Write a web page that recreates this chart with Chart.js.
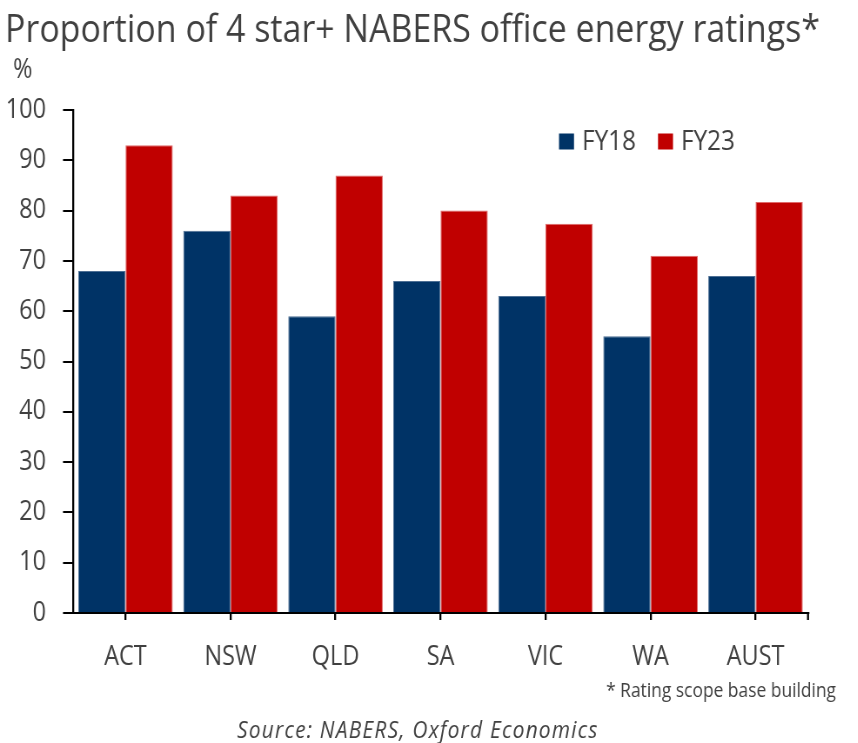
<!DOCTYPE html>
<html>
<head>
<meta charset="utf-8">
<script src="https://cdn.jsdelivr.net/npm/chart.js@4/dist/chart.umd.min.js"></script>
<style>
  html, body { margin: 0; padding: 0; background: #fff; }
  #wrap { position: absolute; left: 0; top: 0; width: 858px; height: 743px; overflow: hidden; }
  /* text in the original is a narrow face, so the whole chart is drawn wider and squeezed */
  #inner { width: 986.2px; height: 743px; transform: scaleX(0.87); transform-origin: 0 0; }
</style>
</head>
<body>
<div id="wrap"><div id="inner"><canvas id="chart"></canvas></div></div>
<script>
const categories = ['ACT', 'NSW', 'QLD', 'SA', 'VIC', 'WA', 'AUST'];
const fy18 = [68, 76, 59, 66, 63, 55, 67];
const fy23 = [93, 83, 87, 80, 77.4, 71, 81.7];
const seriesNames = ['FY18', 'FY23'];
const yMin = 0;
const yMax = 100;
const yStep = 10;

const SX = 0.87;              // horizontal squeeze
const ux = v => v / SX;       // final px -> canvas px
const textColor = '#404040';
const fontFamily = '"Open Sans", "Noto Sans", sans-serif';

// title, unit, legend, footnote and source
const extrasPlugin = {
  id: 'extras',
  afterDraw(chart) {
    const ctx = chart.ctx;
    const area = chart.chartArea;
    ctx.save();
    ctx.fillStyle = textColor;
    ctx.textBaseline = 'alphabetic';

    ctx.font = `39px ${fontFamily}`;
    ctx.textAlign = 'left';
    ctx.fillText('Proportion of 4 star+ NABERS office energy ratings*', ux(5), 42);

    ctx.font = `27px ${fontFamily}`;
    ctx.fillText('%', ux(13), 78);

    // legend
    const legendX = [ux(559), ux(658)];
    chart.data.datasets.forEach((ds, i) => {
      ctx.fillStyle = ds.backgroundColor;
      ctx.fillRect(legendX[i], 133.5, ux(15), 16);
      ctx.fillStyle = textColor;
      ctx.font = `28px ${fontFamily}`;
      ctx.fillText(ds.label, legendX[i] + ux(23), 150);
    });

    // end tick on the category axis
    ctx.strokeStyle = '#000';
    ctx.lineWidth = 2.3;
    ctx.beginPath();
    ctx.moveTo(area.right, area.bottom);
    ctx.lineTo(area.right, area.bottom + 7);
    ctx.stroke();

    ctx.font = `20px ${fontFamily}`;
    ctx.textAlign = 'right';
    ctx.fillText('* Rating scope base building', ux(836), 697);

    ctx.font = `italic 24px ${fontFamily}`;
    ctx.textAlign = 'left';
    ctx.letterSpacing = '1.4px';
    ctx.fillText('Source: NABERS, Oxford Economics', ux(237), 738);
    ctx.restore();
  }
};

const ctx = document.getElementById('chart').getContext('2d');
new Chart(ctx, {
  type: 'bar',
  data: {
    labels: categories,
    datasets: [
      {
        label: seriesNames[0],
        data: fy18,
        backgroundColor: '#003366',
        borderColor: '#4d6f94',
        borderWidth: 1
      },
      {
        label: seriesNames[1],
        data: fy23,
        backgroundColor: '#C00000',
        borderColor: '#e06a6a',
        borderWidth: 1
      }
    ]
  },
  options: {
    responsive: true,
    maintainAspectRatio: false,
    animation: false,
    categoryPercentage: 0.9,
    barPercentage: 1,
    layout: {
      padding: { top: 110, right: 986.2 - ux(808), bottom: 0, left: 0 }
    },
    plugins: {
      legend: { display: false },
      title: { display: false },
      tooltip: { enabled: false }
    },
    scales: {
      x: {
        offset: true,
        afterFit: scale => { scale.height = 130; },
        grid: {
          offset: false,
          drawOnChartArea: false,
          drawTicks: true,
          tickLength: 7,
          color: '#000',
          lineWidth: 2.3
        },
        border: { display: true, color: '#000', width: 2 },
        ticks: {
          color: textColor,
          padding: 21,
          font: { family: fontFamily, size: 27 }
        }
      },
      y: {
        min: yMin,
        max: yMax,
        afterFit: scale => { scale.width = ux(73); },
        grid: {
          drawOnChartArea: false,
          drawTicks: true,
          tickLength: ux(10),
          color: '#000',
          lineWidth: 2
        },
        border: { display: true, color: '#000', width: 2.3 },
        ticks: {
          stepSize: yStep,
          color: textColor,
          padding: ux(17),
          font: { family: fontFamily, size: 27 }
        }
      }
    }
  },
  plugins: [extrasPlugin]
});
</script>
</body>
</html>
